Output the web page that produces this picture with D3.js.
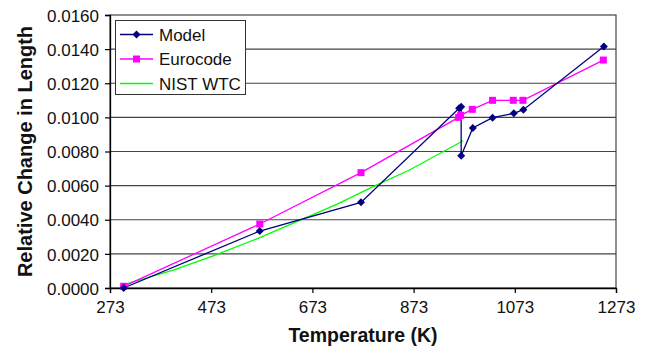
<!DOCTYPE html>
<html>
<head>
<meta charset="utf-8">
<script src="https://cdn.jsdelivr.net/npm/d3@7/dist/d3.min.js"></script>
<style>
  html, body { margin: 0; padding: 0; background: #fff; }
  svg { display: block; font-family: "Liberation Sans", Arial, sans-serif; }
</style>
</head>
<body>
<svg id="chart" width="648" height="349"></svg>
<script>
// ---- data ----
const seriesNames = ["Model", "Eurocode", "NIST WTC"];

const modelT = [300, 569, 769, 963, 967, 967, 990, 1029, 1071, 1090, 1249];
const modelV = [0.0000, 0.00334, 0.00502, 0.01053, 0.01062, 0.00775, 0.00938, 0.00998, 0.01024, 0.01045, 0.01416];

const euroT = [300, 569, 769, 962, 966, 989, 1029, 1070, 1089, 1248];
const euroV = [0.0001, 0.00375, 0.00676, 0.01000, 0.01012, 0.01047, 0.01100, 0.01100, 0.01100, 0.01336];

const nistT = [300, 398, 477, 569, 721, 793, 864, 971];
const nistV = [0.0002, 0.00105, 0.00188, 0.00295, 0.0049, 0.00594, 0.0069, 0.00863];

const xTicks = [273, 473, 673, 873, 1073, 1273];
const yTicks = [0, 0.002, 0.004, 0.006, 0.008, 0.010, 0.012, 0.014, 0.016];

const xLabel = "Temperature (K)";
const yLabel = "Relative Change in Length";

// ---- layout ----
const svg = d3.select("#chart");
const L = 110, R = 616, T = 15, B = 288;

const x = d3.scaleLinear().domain([273, 1273]).range([L, R]);
const y = d3.scaleLinear().domain([0, 0.016]).range([B, T]);

const colors = { "Model": "#000080", "Eurocode": "#ff00ff", "NIST WTC": "#00ff00" };

// gridlines
svg.append("g").selectAll("line").data(yTicks.filter(d => d > 0 && d < 0.016)).join("line")
  .attr("x1", L).attr("x2", R).attr("y1", d => y(d)).attr("y2", d => y(d))
  .attr("stroke", "#444").attr("stroke-width", 1.2);

// plot border
svg.append("rect").attr("x", L).attr("y", T).attr("width", R - L).attr("height", B - T)
  .attr("fill", "none").attr("stroke", "#444").attr("stroke-width", 1.2);

// axes
const yAxis = d3.axisLeft(y).tickValues(yTicks).tickFormat(d3.format(".4f")).tickSize(5).tickPadding(6);
const gy = svg.append("g").attr("transform", `translate(${L},0)`).call(yAxis);
const xAxis = d3.axisBottom(x).tickValues(xTicks).tickFormat(d3.format("d")).tickSize(5).tickPadding(8);
const gx = svg.append("g").attr("transform", `translate(0,${B})`).call(xAxis);
[gx, gy].forEach(g => {
  g.select(".domain").attr("stroke", "#000").attr("stroke-width", 1.3);
  g.selectAll(".tick line").attr("stroke", "#000").attr("stroke-width", 1.2);
  g.selectAll("text").attr("font-size", 17).attr("fill", "#111")
    .attr("font-family", "'Liberation Sans', Arial, sans-serif");
});
gy.selectAll("text").attr("dy", "0.36em");

// axis titles
svg.append("text").attr("x", (L + R) / 2).attr("y", 341.5).attr("text-anchor", "middle")
  .attr("font-size", 19.5).attr("font-weight", "bold").attr("fill", "#111").text(xLabel);
svg.append("text").attr("transform", `translate(31.5,${(T + B) / 2}) rotate(-90)`)
  .attr("text-anchor", "middle").attr("font-size", 20).attr("font-weight", "bold")
  .attr("fill", "#111").text(yLabel);

// lines
const line = d3.line().x(d => x(d[0])).y(d => y(d[1]));
const model = modelT.map((t, i) => [t, modelV[i]]);
const euro = euroT.map((t, i) => [t, euroV[i]]);
const nist = nistT.map((t, i) => [t, nistV[i]]);

svg.append("path").datum(nist).attr("d", line).attr("fill", "none")
  .attr("stroke", colors["NIST WTC"]).attr("stroke-width", 1.3);
svg.append("path").datum(euro).attr("d", line).attr("fill", "none")
  .attr("stroke", colors["Eurocode"]).attr("stroke-width", 1.3);
svg.append("path").datum(model).attr("d", line).attr("fill", "none")
  .attr("stroke", colors["Model"]).attr("stroke-width", 1.3);

// markers
const sq = 7, dm = 4;
svg.append("g").selectAll("rect").data(euro).join("rect")
  .attr("x", d => x(d[0]) - sq / 2).attr("y", d => y(d[1]) - sq / 2)
  .attr("width", sq).attr("height", sq).attr("fill", colors["Eurocode"]);
const diamond = (cx, cy) => `M${cx},${cy - dm}L${cx + dm},${cy}L${cx},${cy + dm}L${cx - dm},${cy}Z`;
svg.append("g").selectAll("path").data(model).join("path")
  .attr("d", d => diamond(x(d[0]), y(d[1]))).attr("fill", colors["Model"]);

// legend
const lg = svg.append("g");
lg.append("rect").attr("x", 115.5).attr("y", 20.5).attr("width", 130).attr("height", 74)
  .attr("fill", "#fff").attr("stroke", "#333").attr("stroke-width", 1);
seriesNames.forEach((name, i) => {
  const ly = 34.5 + i * 24.5;
  lg.append("line").attr("x1", 120).attr("x2", 153).attr("y1", ly).attr("y2", ly)
    .attr("stroke", colors[name]).attr("stroke-width", 1.3);
  if (name === "Model") lg.append("path").attr("d", diamond(136.5, ly)).attr("fill", colors[name]);
  if (name === "Eurocode") lg.append("rect").attr("x", 136.5 - sq / 2).attr("y", ly - sq / 2)
    .attr("width", sq).attr("height", sq).attr("fill", colors[name]);
  lg.append("text").attr("x", 159).attr("y", ly + 6).attr("font-size", 17).attr("fill", "#111").text(name);
});
</script>
</body>
</html>
